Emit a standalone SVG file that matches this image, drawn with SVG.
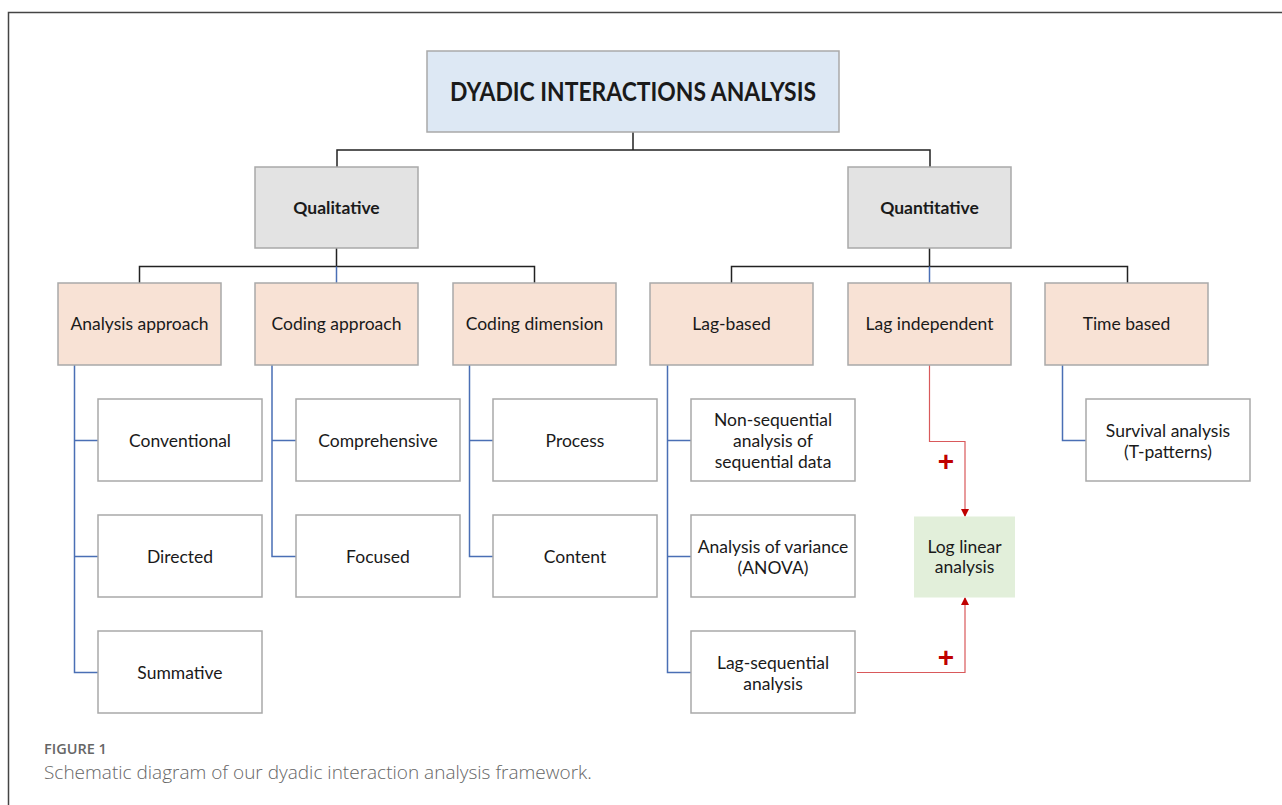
<svg xmlns="http://www.w3.org/2000/svg" width="1282" height="805" viewBox="0 0 1282 805">
<defs>
<style>
.box{stroke:#a9a9a9;stroke-width:1.5}
.title{fill:#dde8f4}
.grey{fill:#e3e3e3}
.peach{fill:#f8e2d5}
.white{fill:#ffffff}
.green{fill:#e2efda;stroke:#e2efda}
.t{font-family:Lato,"Open Sans","Liberation Sans",sans-serif;font-size:17.5px;fill:#1a1a1a;text-anchor:middle}
.b{font-weight:bold}
.blk{fill:none;stroke:#222;stroke-width:1.5}
.blu{fill:none;stroke:#4a6fb5;stroke-width:1.5}
.red{fill:none;stroke:#d9595b;stroke-width:1.2}
.plus{font-family:"Liberation Sans",sans-serif;font-size:28px;font-weight:bold;fill:#c00000;text-anchor:middle}
.cap{font-family:"Open Sans","Liberation Sans",sans-serif;fill:#666}
</style>
<marker id="ar" markerWidth="8" markerHeight="8" refX="7" refY="4" orient="auto" markerUnits="userSpaceOnUse">
<path d="M0,0 L8,4 L0,8 Z" fill="#c00000"/>
</marker>
</defs>
<rect width="1282" height="805" fill="#ffffff"/>
<path d="M8.5,805 V12.5 H1282" fill="none" stroke="#444" stroke-width="1.5"/>

<g id="connectors">
<path class="blk" d="M633,132 V150 M337,167 V150 H930 V167"/>
<path class="blk" d="M336.5,248 V266.5 M139.5,283 V266.5 H534.5 V283"/>
<path class="blu" d="M336.5,266.5 V283"/>
<path class="blk" d="M929.5,248 V266.5 M731.5,283 V266.5 H1127.5 V283"/>
<path class="blu" d="M929.5,266.5 V283"/>
<path class="blu" d="M74.5,365 V672.5 H98 M74.5,440.5 H98 M74.5,556.5 H98"/>
<path class="blu" d="M272,365 V556.5 H296 M272,440.5 H296"/>
<path class="blu" d="M469.5,365 V556.5 H493 M469.5,440.5 H493"/>
<path class="blu" d="M667.5,365 V672.5 H691 M667.5,440.5 H691 M667.5,556.5 H691"/>
<path class="blu" d="M1062.5,365 V440.5 H1086"/>
<path class="red" d="M929.5,365 V441.5 H965 V516" marker-end="url(#ar)"/>
<path class="red" d="M857,672.5 H965 V598" marker-end="url(#ar)"/>
<text class="plus" x="946" y="471">+</text>
<text class="plus" x="946" y="667">+</text>
</g>

<g id="n-root"><rect class="box title" x="427" y="51" width="412" height="81"/><text class="t b" x="633" y="101" style="font-size:26px" textLength="366" lengthAdjust="spacingAndGlyphs">DYADIC INTERACTIONS ANALYSIS</text></g>
<g id="n-qual"><rect class="box grey" x="255" y="167" width="163" height="81"/><text class="t b" x="336.5" y="214">Qualitative</text></g>
<g id="n-quant"><rect class="box grey" x="848" y="167" width="163" height="81"/><text class="t b" x="929.5" y="214">Quantitative</text></g>

<g id="n-analysis"><rect class="box peach" x="58" y="283" width="163" height="82"/><text class="t" x="139.5" y="330">Analysis approach</text></g>
<g id="n-codapp"><rect class="box peach" x="255" y="283" width="163" height="82"/><text class="t" x="336.5" y="330">Coding approach</text></g>
<g id="n-coddim"><rect class="box peach" x="453" y="283" width="163" height="82"/><text class="t" x="534.5" y="330">Coding dimension</text></g>
<g id="n-lagbased"><rect class="box peach" x="650" y="283" width="163" height="82"/><text class="t" x="731.5" y="330">Lag-based</text></g>
<g id="n-lagind"><rect class="box peach" x="848" y="283" width="163" height="82"/><text class="t" x="929.5" y="330">Lag independent</text></g>
<g id="n-time"><rect class="box peach" x="1045" y="283" width="163" height="82"/><text class="t" x="1126.5" y="330">Time based</text></g>

<g id="n-conv"><rect class="box white" x="98" y="399" width="164" height="82"/><text class="t" x="180" y="446.5">Conventional</text></g>
<g id="n-dir"><rect class="box white" x="98" y="515" width="164" height="82"/><text class="t" x="180" y="562.5">Directed</text></g>
<g id="n-sum"><rect class="box white" x="98" y="631" width="164" height="82"/><text class="t" x="180" y="678.5">Summative</text></g>
<g id="n-comp"><rect class="box white" x="296" y="399" width="164" height="82"/><text class="t" x="378" y="446.5">Comprehensive</text></g>
<g id="n-foc"><rect class="box white" x="296" y="515" width="164" height="82"/><text class="t" x="378" y="562.5">Focused</text></g>
<g id="n-proc"><rect class="box white" x="493" y="399" width="164" height="82"/><text class="t" x="575" y="446.5">Process</text></g>
<g id="n-cont"><rect class="box white" x="493" y="515" width="164" height="82"/><text class="t" x="575" y="562.5">Content</text></g>
<g id="n-nonseq"><rect class="box white" x="691" y="399" width="164" height="82"/><text class="t" x="773" y="425.5">Non-sequential</text><text class="t" x="773" y="446.5">analysis of</text><text class="t" x="773" y="467.5">sequential data</text></g>
<g id="n-anova"><rect class="box white" x="691" y="515" width="164" height="82"/><text class="t" x="773" y="552.5">Analysis of variance</text><text class="t" x="773" y="573.5">(ANOVA)</text></g>
<g id="n-lagseq"><rect class="box white" x="691" y="631" width="164" height="82"/><text class="t" x="773" y="668.5">Lag-sequential</text><text class="t" x="773" y="689.5">analysis</text></g>
<g id="n-surv"><rect class="box white" x="1086" y="399" width="164" height="82"/><text class="t" x="1168" y="436.5">Survival analysis</text><text class="t" x="1168" y="457.5">(T-patterns)</text></g>
<g id="n-log"><rect class="green" x="914.5" y="517" width="100" height="80"/><text class="t" x="964.5" y="552.5">Log linear</text><text class="t" x="964.5" y="572.5">analysis</text></g>

<text class="cap" x="44" y="754" style="font-size:14.5px;font-weight:600">FIGURE 1</text>
<text class="cap" x="44" y="779" style="font-size:19px;font-weight:300">Schematic diagram of our dyadic interaction analysis framework.</text>
</svg>
